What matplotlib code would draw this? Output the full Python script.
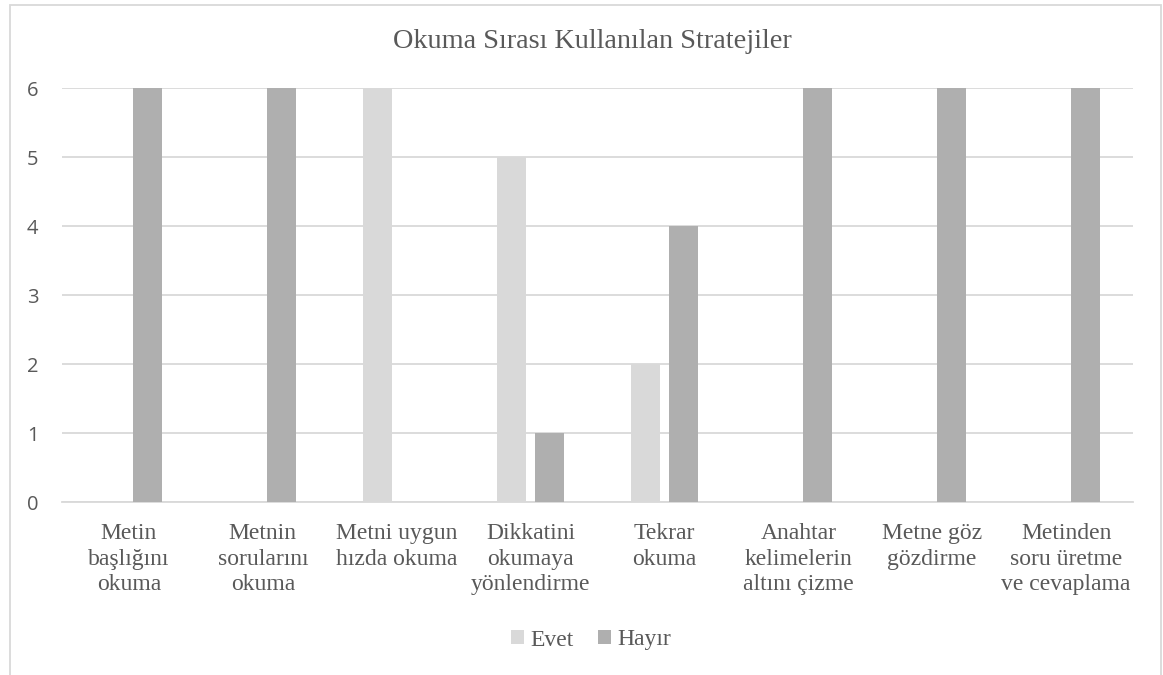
import matplotlib
matplotlib.use("Agg")
import matplotlib.pyplot as plt
import numpy as np
from matplotlib.patches import Rectangle

categories = ["Metin\nbaşlığını\nokuma", "Metnin\nsorularını\nokuma", "Metni uygun\nhızda okuma",
              "Dikkatini\nokumaya\nyönlendirme", "Tekrar\nokuma", "Anahtar\nkelimelerin\naltını çizme",
              "Metne göz\ngözdirme", "Metinden\nsoru üretme\nve cevaplama"]
evet = [0, 0, 6, 5, 2, 0, 0, 0]
hayir = [6, 6, 0, 1, 4, 6, 6, 6]
series_names = ["Evet", "Hayır"]
title = "Okuma Sırası Kullanılan Stratejiler"
yticks = [0, 1, 2, 3, 4, 5, 6]

W, H = 1163, 675
fig = plt.figure(figsize=(W / 100, H / 100), dpi=100)
fig.patch.set_facecolor("white")

# outer chart border
fig.add_artist(Rectangle((10 / W, -0.05), (1161 - 10) / W, 1.05 - 5 / H, transform=fig.transFigure,
                         fill=False, edgecolor="#d9d9d9", linewidth=1.3))

ax = fig.add_axes([62 / W, 1 - 502 / H, (1133 - 62) / W, (502 - 88) / H])
x = np.arange(len(categories))
bw = 0.217
off = 0.142
ax.bar(x - off, evet, width=bw, color="#d9d9d9", label=series_names[0], zorder=3)
ax.bar(x + off, hayir, width=bw, color="#afafaf", label=series_names[1], zorder=3)

ax.set_xlim(-0.5, len(categories) - 0.5)
ax.set_ylim(0, 6)
ax.set_yticks(yticks)
ax.yaxis.grid(True, color="#d9d9d9", linewidth=1.3, zorder=0)
ax.set_axisbelow(True)
for s in ["top", "right", "left"]:
    ax.spines[s].set_visible(False)
ax.spines["bottom"].set_color("#d9d9d9")
ax.spines["bottom"].set_linewidth(1.3)
ax.tick_params(axis="both", length=0)
ax.tick_params(axis="y", pad=17)
ax.tick_params(axis="x", pad=15)
ax.set_yticklabels([str(v) for v in yticks], fontfamily="Open Sans", fontsize=14.5, color="#595959")
ax.set_xticks(x)
ax.set_xticklabels(categories, fontfamily="Liberation Serif", fontsize=17, color="#595959",
                   linespacing=1.3)

fig.text(592 / W, 1 - 42 / H, title, ha="center", va="center", fontfamily="Liberation Serif",
         fontsize=20.3, color="#595959")

leg = fig.legend(loc="center", bbox_to_anchor=(591 / W, 1 - 640 / H), ncol=2, frameon=False,
                 prop={"family": "Liberation Serif", "size": 17}, handlelength=0.55, handleheight=0.55,
                 handletextpad=0.3, columnspacing=1.0)
for t in leg.get_texts():
    t.set_color("#595959")

fig.savefig("out.png", dpi=100)
